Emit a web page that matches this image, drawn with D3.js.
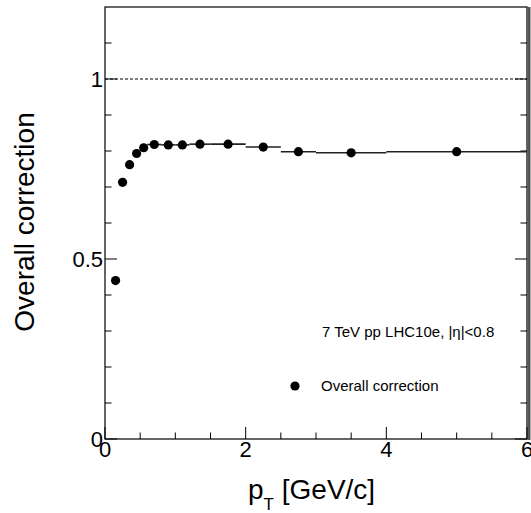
<!DOCTYPE html>
<html><head><meta charset="utf-8">
<script src="https://cdn.jsdelivr.net/npm/d3@7"></script>
<style>body{margin:0;background:#fff}svg{display:block;font-family:"Liberation Sans",Arial,Helvetica,sans-serif}</style>
</head><body><svg id="c" width="531" height="513"></svg>
<script>
const binLow  = [0.1,0.2,0.3,0.4,0.5,0.6,0.8,1.0,1.2,1.5,2.0,2.5,3.0,4.0];
const binHigh = [0.2,0.3,0.4,0.5,0.6,0.8,1.0,1.2,1.5,2.0,2.5,3.0,4.0,6.0];
const ptCenters = [0.15,0.25,0.35,0.45,0.55,0.7,0.9,1.1,1.35,1.75,2.25,2.75,3.5,5.0];
const correction = [0.44,0.713,0.762,0.793,0.809,0.818,0.817,0.817,0.819,0.819,0.811,0.798,0.795,0.798];
const xMajorTicks = [0,2,4,6];
const xMinorTicks = [0.5,1,1.5,2.5,3,3.5,4.5,5,5.5];
const yMajorTicks = [0,0.5,1];
const yMinorTicks = [0.1,0.2,0.3,0.4,0.6,0.7,0.8,0.9,1.1];

const svg = d3.select("#c");
const L=105, R=527, T=7, B=439;
const x = d3.scaleLinear().domain([0,6]).range([L,R]);
const y = d3.scaleLinear().domain([0,1.2]).range([B,T]);

// frame
svg.append("rect").attr("x",L).attr("y",T).attr("width",R-L).attr("height",B-T)
  .attr("fill","none").attr("stroke","#000").attr("stroke-width",1.2);
svg.append("line").attr("x1",R+2).attr("x2",R+2).attr("y1",T).attr("y2",B+1).attr("stroke","#555").attr("stroke-width",3);

const g = svg.append("g");
// x ticks
g.append("g").selectAll("line").data(xMajorTicks).join("line").attr("x1",d=>x(d)).attr("x2",d=>x(d)).attr("y1",B).attr("y2",B-12).attr("stroke","#000");
g.append("g").selectAll("line").data(xMinorTicks).join("line").attr("x1",d=>x(d)).attr("x2",d=>x(d)).attr("y1",B).attr("y2",B-6.5).attr("stroke","#000");
// y ticks left and right
[[L,1],[R,-1]].forEach(([x0,s])=>{
  g.append("g").selectAll("line").data(yMajorTicks).join("line").attr("x1",x0).attr("x2",x0+s*12).attr("y1",d=>y(d)).attr("y2",d=>y(d)).attr("stroke","#000");
  g.append("g").selectAll("line").data(yMinorTicks).join("line").attr("x1",x0).attr("x2",x0+s*6.5).attr("y1",d=>y(d)).attr("y2",d=>y(d)).attr("stroke","#000");
});

// tick labels
svg.append("g").selectAll("text").data(xMajorTicks).join("text")
  .attr("x",d=>x(d)).attr("y",B+18).attr("text-anchor","middle").attr("font-size",22).text(d=>d);
svg.append("g").selectAll("text").data(yMajorTicks).join("text")
  .attr("x",L-2).attr("y",d=>y(d)+8).attr("text-anchor","end").attr("font-size",22).text(d=>d);

// dashed reference line at 1
svg.append("line").attr("x1",L).attr("x2",R).attr("y1",y(1)).attr("y2",y(1))
  .attr("stroke","#000").attr("stroke-width",1).attr("stroke-dasharray","3,2");

// bin-width bars
svg.append("g").selectAll("line").data(correction).join("line")
  .attr("x1",(d,i)=>x(binLow[i])).attr("x2",(d,i)=>x(binHigh[i]))
  .attr("y1",d=>y(d)).attr("y2",d=>y(d)).attr("stroke","#222").attr("stroke-width",1.6);
// markers
svg.append("g").selectAll("circle").data(correction).join("circle")
  .attr("cx",(d,i)=>x(ptCenters[i])).attr("cy",d=>y(d)).attr("r",4.6).attr("fill","#000");

// axis titles
svg.append("text").attr("transform","translate(34,222) rotate(-90)").attr("text-anchor","middle")
  .attr("font-size",28).text("Overall correction");
const xt = svg.append("text").attr("x",248).attr("y",499).attr("font-size",28);
xt.append("tspan").text("p");
xt.append("tspan").attr("font-size",17).attr("dy",11).text("T");
xt.append("tspan").attr("dy",-11).text(" [GeV/c]");

// annotation and legend
svg.append("text").attr("x",322).attr("y",337).attr("font-size",15).text("7 TeV pp LHC10e, |η|<0.8");
svg.append("circle").attr("cx",295).attr("cy",386).attr("r",4.6).attr("fill","#000");
svg.append("text").attr("x",321).attr("y",391).attr("font-size",15).text("Overall correction");
</script></body></html>
